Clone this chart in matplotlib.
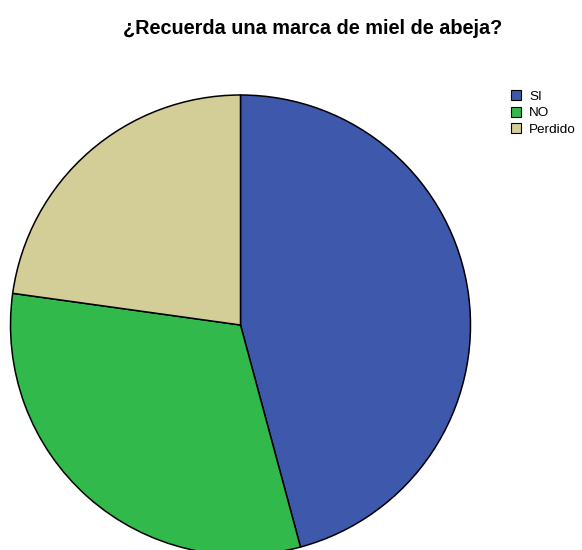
import matplotlib
matplotlib.use("Agg")
import matplotlib.pyplot as plt
from matplotlib.patches import Patch

plt.rcParams["font.family"] = ["Liberation Sans", "DejaVu Sans"]

labels = ["SI", "NO", "Perdido"]
values = [45.8, 31.4, 22.8]
colors = ["#3E58AC", "#31B94B", "#D3CD98"]

fig = plt.figure(figsize=(5.82, 5.5), dpi=100)

# pie axes placed so the circle overflows the bottom edge slightly
ax = fig.add_axes([10.5 / 582, -5 / 550, 460 / 582, 460 / 550])
ax.pie(values, colors=colors, startangle=90, counterclock=False,
       radius=1.0, wedgeprops=dict(edgecolor="black", linewidth=1.1))
ax.set_xlim(-1, 1)
ax.set_ylim(-1, 1)
ax.set_aspect("equal")
ax.axis("off")

fig.text(312.5 / 582, 1 - 28 / 550, "¿Recuerda una marca de miel de abeja?",
         ha="center", va="center", fontsize=14.3, fontweight="bold")

handles = [Patch(facecolor=c, edgecolor="black", linewidth=0.8) for c in colors]
fig.legend(handles, labels, loc="upper left", bbox_to_anchor=(511 / 582, 1 - 90.5 / 550),
           frameon=False, fontsize=9.7, handlelength=0.75, handleheight=0.75,
           handletextpad=0.6, labelspacing=0.27, borderpad=0, borderaxespad=0)

fig.savefig("out.png", dpi=100)
